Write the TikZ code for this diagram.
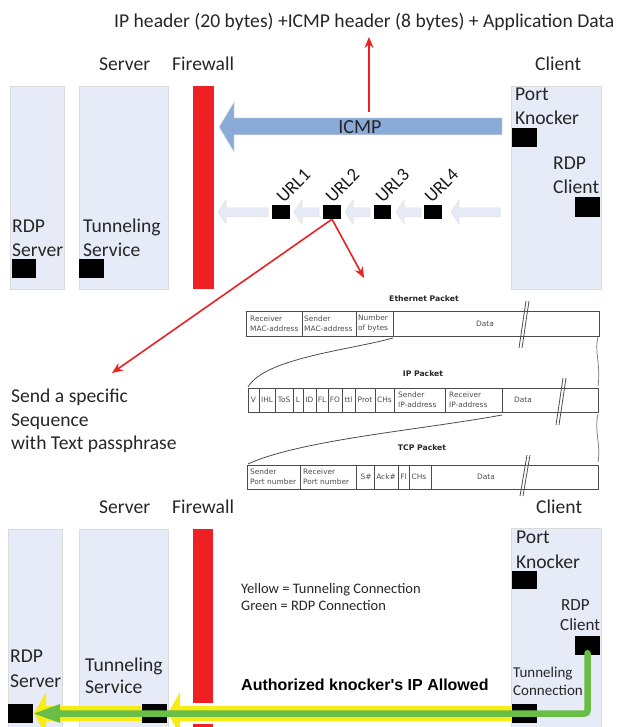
\documentclass[tikz,border=0pt]{standalone}
\usepackage{fontspec}
\setmainfont{Carlito}
\newfontfamily\pktfont{DejaVu Sans}
\newfontfamily\boldfont{Liberation Sans}
\usetikzlibrary{arrows.meta}
\newcommand{\bx}[6]{%
 \pgfmathsetmacro{\cxv}{(#3+#5)/2}\pgfmathsetmacro{\cyv}{(#4+#6)/2}%
 \pgfmathsetmacro{\wv}{abs(#5-#3)}\pgfmathsetmacro{\hv}{abs(#6-#4)}%
 \node[#2,minimum width=\wv pt,minimum height=\hv pt] (#1) at (\cxv,\cyv) {};}
\newcommand{\tx}[5][lab]{\node[#1,anchor=base west] (#2) at (#3,#4) {#5};}
\tikzset{
 panel/.style={draw=black!14,line width=0.8pt,inner sep=0pt,fill=panelblue},
 wall/.style={fill=wallred,inner sep=0pt},
 blk/.style={fill=black,inner sep=0pt},
 lab/.style={font=\fontsize{19.6}{22}\selectfont,inner sep=0pt,text=black!85},
 labs/.style={font=\fontsize{17}{20}\selectfont,inner sep=0pt,text=black!85},
 labt/.style={font=\fontsize{15}{17}\selectfont,inner sep=0pt,text=black!85},
 note/.style={font=\fontsize{14.5}{17}\selectfont,inner sep=0pt,text=black!85},
 pkt/.style={font=\pktfont\fontsize{7.4}{10}\selectfont,inner sep=0pt,align=left,text=black!70},
 pkttitle/.style={font=\pktfont\bfseries\fontsize{7.7}{9}\selectfont,inner sep=0pt,text=black!85},
 pktbox/.style={draw=black!70,line width=0.8pt,inner sep=0pt},
 pktline/.style={draw=black!70,line width=0.8pt},
 redarr/.style={draw=wallred,line width=1.6pt,-{Stealth[length=11pt,width=9pt]}},
 lightarr/.style={fill=panelblue,draw=black!12,line width=0.5pt},
 urllab/.style={font=\fontsize{18.5}{20}\selectfont,inner sep=0pt,rotate=45,anchor=south west,text=black!90},
}
\definecolor{panelblue}{HTML}{E6EBF7}
\definecolor{wallred}{HTML}{EE2024}
\definecolor{icmpblue}{HTML}{8AABD8}
\definecolor{tunyellow}{HTML}{F7EC13}
\definecolor{rdpgreen}{HTML}{6ABD45}
\begin{document}
\begin{tikzpicture}[x=1pt,y=-1pt]
\useasboundingbox (0,0) rectangle (619,727);
% ---------- top
\tx{hdr}{114}{28}{IP header (20 bytes) +ICMP header (8 bytes) + Application Data}
\tx{srvA}{99}{71}{Server}
\tx{fwA}{172}{71}{Firewall}
\tx{cliA}{535}{71}{Client}
\bx{rdpA}{panel}{10}{86}{64}{289}
\bx{tunA}{panel}{79}{86}{168}{289}
\bx{wallA}{wall}{193}{86}{214}{289}
\bx{clientA}{panel}{511}{86}{601}{289}
\tx{a1}{515}{101}{Port}
\tx{a2}{515}{125}{Knocker}
\tx{a3}{553}{170}{RDP}
\tx{a4}{553}{194}{Client}
\tx{a5}{12}{233}{RDP}
\tx{a6}{12}{256}{Server}
\tx{a7}{83}{233}{Tunneling}
\tx{a8}{83}{256}{Service}
\bx{pkA}{blk}{512}{128}{537}{147}
\bx{rcA}{blk}{575}{197}{600}{217}
\bx{rsA}{blk}{12}{259}{36}{278}
\bx{tsA}{blk}{79}{259}{104}{278}
% ICMP arrow
\fill[icmpblue,draw=black!10,line width=0.5pt] (502,118) -- (234,118) -- (234,102) -- (219,127) -- (234,152) -- (234,135) -- (502,135) -- cycle;
\node[lab,anchor=center,font=\fontsize{20}{22}\selectfont] (icmp) at (360,127) {ICMP};
\coordinate (upA) at (369,112);
\coordinate (upB) at (369,37);
\draw[redarr] (upA) -- (upB);
% URL arrows
\foreach \xa/\xb in {268/218,319/294,370/345,421/396,500/451}{
 \pgfmathsetmacro{\xh}{\xb+8}
 \path[lightarr] (\xa,208) -- (\xh,208) -- (\xh,200) -- (\xb,212) -- (\xh,224) -- (\xh,217) -- (\xa,217) -- cycle;
}
\bx{u1}{blk}{272}{205}{290}{219}
\bx{u2}{blk}{323}{205}{341}{219}
\bx{u3}{blk}{374}{205}{391}{219}
\bx{u4}{blk}{424}{205}{442}{219}
\node[urllab] (ul1) at (284,204) {URL1};
\node[urllab] (ul2) at (333,204) {URL2};
\node[urllab] (ul3) at (383,204) {URL3};
\node[urllab] (ul4) at (432,204) {URL4};
\coordinate (pk) at (364,278);
\coordinate (sq) at (112,373);
\draw[redarr] (u2.south) -- (pk);
\draw[redarr] (u2.south) -- (sq);
\tx{s1}{11}{402}{Send a specific}
\tx{s2}{11}{426}{Sequence}
\tx{s3}{11}{449}{with Text passphrase}
% ---------- packets
\node[pkttitle] (tE) at (424,299) {Ethernet Packet};
\node[pkttitle] (tI) at (423,374) {IP Packet};
\node[pkttitle] (tT) at (422,448) {TCP Packet};
\bx{ethR}{pktbox}{246}{311}{599}{336}
\bx{ipR}{pktbox}{248}{388}{598}{412}
\bx{tcpR}{pktbox}{247}{465}{598}{489}
\foreach \x in {302,356,393}{\draw[pktline] (\x,311) -- (\x,336);}
\foreach \x in {259,275,293,303,316,328,342,355,375,394,445,502}{\draw[pktline] (\x,388) -- (\x,412);}
\foreach \x in {300,356,374,398,409,431}{\draw[pktline] (\x,465) -- (\x,489);}
% break marks
\foreach \xa/\ya/\xb/\yb in {519/348/526/301,522/348/529/301,556/425/563/378,559/425/566/378,520/496/527/455,523/496/530/455}{
 \draw[pktline] (\xa,\ya) -- (\xb,\yb);}
% curves and wavy edges
\draw[pktline] (393,338) .. controls (350,350) and (265,358) .. (248,387);
\draw[pktline] (502,415) .. controls (420,430) and (300,440) .. (248,464);
\draw[black!55,line width=0.7pt] (598,337) .. controls (594,350) and (601,365) .. (598,386);
\draw[black!55,line width=0.7pt] (598,414) .. controls (594,430) and (601,445) .. (598,462);
\node[pkt,anchor=west] (e1) at (250,323.5) {Receiver\\MAC-address};
\node[pkt,anchor=west] (e2) at (304,323.5) {Sender\\MAC-address};
\node[pkt,anchor=west] (e3) at (358,323.5) {Number\\of bytes};
\node[pkt] (e4) at (485,323.5) {Data};
\foreach \n/\x/\t in {i1/253.5/V,i2/267/IHL,i3/284/ToS,i4/298/L,i5/309.5/ID,i6/322/FL,i7/335/FO,i8/348.5/ttl,i9/365/Prot,i10/384.5/CHs}{
 \node[pkt] (\n) at (\x,400) {\t};}
\node[pkt,anchor=west] (i11) at (398,400) {Sender\\IP-address};
\node[pkt,anchor=west] (i12) at (449,400) {Receiver\\IP-address};
\node[pkt] (i13) at (523,400) {Data};
\node[pkt,anchor=west] (t1) at (250,477) {Sender\\Port number};
\node[pkt,anchor=west] (t2) at (303,477) {Receiver\\Port number};
\node[pkt] (t3) at (366,477) {S\#};
\node[pkt] (t4) at (386,477) {Ack\#};
\node[pkt] (t5) at (403.5,477) {Fl};
\node[pkt] (t6) at (419,477) {CHs};
\node[pkt] (t7) at (486,477) {Data};
% ---------- bottom
\tx{srvB}{99}{513}{Server}
\tx{fwB}{172}{513}{Firewall}
\tx{cliB}{536}{513}{Client}
\bx{rdpB}{panel}{8}{529}{62}{727}
\bx{tunB}{panel}{79}{529}{168}{727}
\bx{clientB}{panel}{511}{528}{601}{727}
\bx{wallB1}{wall}{193}{529}{213}{703}
\bx{wallB2}{wall}{193}{724}{213}{727}
\tx{b1}{516}{543}{Port}
\tx{b2}{516}{568}{Knocker}
\tx[labs]{b3}{561}{610}{RDP}
\tx[labs]{b4}{560}{630}{Client}
\tx[labt]{b5}{513}{677}{Tunneling}
\tx[labt]{b6}{513}{695}{Connection}
\tx{b7}{10}{662}{RDP}
\tx{b8}{10}{687}{Server}
\tx{b9}{85}{671}{Tunneling}
\tx{b10}{85}{693}{Service}
\tx[note]{n1}{241}{593}{Yellow = Tunneling Connection}
\tx[note]{n2}{241}{610}{Green = RDP Connection}
\node[anchor=base west,inner sep=0pt,font=\boldfont\bfseries\fontsize{16}{18}\selectfont] (auth) at (241,690) {Authorized knocker's IP Allowed};
\begin{scope}
\clip (0,0) rectangle (619,727);
\fill[tunyellow] (511,706) -- (180,706) -- (180,692) -- (168,713.5) -- (180,735) -- (180,721) -- (511,721) -- cycle;
\fill[tunyellow] (142,706) -- (46,706) -- (46,692) -- (34,713.5) -- (46,735) -- (46,721) -- (142,721) -- cycle;
\end{scope}
\bx{pkB}{blk}{512}{571}{537}{589}
\bx{rcB}{blk}{575}{636}{600}{655}
\bx{tcB}{blk}{512}{704}{537}{723}
\bx{tsB}{blk}{142}{704}{167}{723}
\bx{rsB}{blk}{8}{704}{33}{723}
\draw[rdpgreen,line width=6.5pt,line cap=round,rounded corners=3pt] (rcB.south) ++(0,-2) -- (587.5,713.5) -- (58,713.5);
\fill[rdpgreen] (60,704) -- (34,713.5) -- (60,723) -- cycle;
\end{tikzpicture}
\end{document}
